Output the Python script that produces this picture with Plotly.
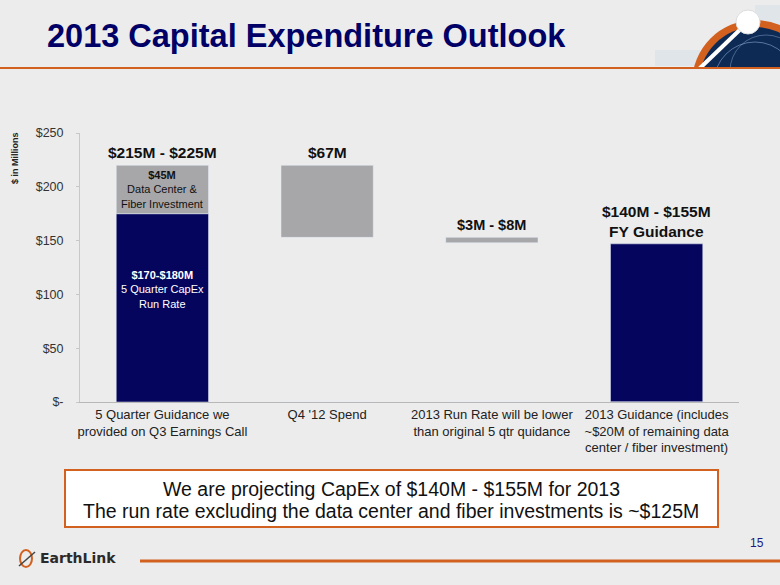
import plotly.graph_objects as go

# ---- data ----
categories = [
    "5 Quarter Guidance we<br>provided on Q3 Earnings Call",
    "Q4 '12 Spend",
    "2013 Run Rate will be lower<br>than original 5 qtr quidance",
    "2013 Guidance (includes<br>~$20M of remaining data<br>center / fiber investment)",
]
navy_values = [175, 0, 0, 147]
gray_values = [45, 67, 5, 0]
gray_base = [175, 153, 148, 0]
tick_vals = [0, 50, 100, 150, 200, 250]
tick_text = ["$-", "$50", "$100", "$150", "$200", "$250"]
top_labels = ["$215M - $225M", "$67M", "$3M - $8M", "$140M - $155M<br>FY Guidance"]

NAVY = "#05055e"
GRAY = "#a7a7aa"
ORANGE = "#d2601e"
BG = "#ececec"

W, H = 780, 585
L, R, T, B = 80, 739, 133, 402


def px(x):
    return (x - L) / (R - L)


def py(y):
    return (B - y) / (B - T)


fig = go.Figure()
fig.add_trace(go.Bar(x=categories, y=navy_values, base=[0] * 4, marker_color=NAVY,
                     width=0.56, hoverinfo="skip"))
fig.add_trace(go.Bar(x=categories, y=gray_values, base=gray_base, marker_color=GRAY,
                     width=0.56, hoverinfo="skip"))

ann = []
label_y = [gray_base[0] + gray_values[0], gray_base[1] + gray_values[1],
           gray_base[2] + gray_values[2], navy_values[3]]
for i, (lab, yv) in enumerate(zip(top_labels, label_y)):
    ann.append(dict(x=categories[i], y=yv, text="<b>%s</b>" % lab, showarrow=False,
                    xanchor="center", yanchor="bottom", yshift=2, xref="x", yref="y",
                    font=dict(family="Arial", size=15.5 if i != 2 else 14.5, color="#111")))
ann.append(dict(x=categories[0], y=gray_base[0] + gray_values[0] / 2,
                text="<b>$45M</b><br>Data Center &<br>Fiber Investment", showarrow=False,
                xanchor="center", yanchor="middle",
                xref="x", yref="y", font=dict(family="Arial", size=11, color="#111")))
ann.append(dict(x=categories[0], y=navy_values[0] * 0.6,
                text="<b>$170-$180M</b><br>5 Quarter CapEx<br>Run Rate", showarrow=False,
                xanchor="center", yanchor="middle",
                xref="x", yref="y", font=dict(family="Arial", size=11, color="white")))


def pann(x, y, text, size, color, xanchor="center", family="Arial", **kw):
    ann.append(dict(x=px(x), y=py(y), xref="paper", yref="paper", text=text, showarrow=False,
                    xanchor=xanchor, yanchor="middle",
                    font=dict(family=family, size=size, color=color), **kw))


pann(15, 158, "<b>$ in Millions</b>", 9, "#222", textangle=-90)
pann(45, 36, "<b>2013 Capital Expenditure Outlook</b>", 32.5, "#000066", xanchor="left")
pann(391, 489, "We are projecting CapEx of $140M - $155M for 2013", 19.5, "#111")
pann(391, 511, "The run rate excluding the data center and fiber investments is ~$125M", 19.5, "#111")
pann(757, 543, "15", 12, "#1a1a80")
pann(38, 558, "<b>EarthLink</b>", 14, "#2a2a2a", xanchor="left", family="DejaVu Sans")


def circ(x0, y0, x1, y1, **kw):
    return dict(type="circle", xref="paper", yref="paper", x0=px(x0), x1=px(x1),
                y0=py(y1), y1=py(y0), layer="above", **kw)


shapes = [
    # faint light-blue dot pattern near logo
    dict(type="rect", xref="paper", yref="paper", x0=px(655), x1=px(700), y0=py(66), y1=py(50),
         fillcolor="rgba(170,200,230,0.18)", line=dict(width=0), layer="below"),
    dict(type="rect", xref="paper", yref="paper", x0=px(755), x1=px(780), y0=py(30), y1=py(5),
         fillcolor="rgba(170,200,230,0.18)", line=dict(width=0), layer="below"),
    # logo top right: orange ring + navy globe
    circ(692, 20, 818, 146, fillcolor=ORANGE, line=dict(width=0)),
    circ(699, 27, 811, 139, fillcolor="#0d2a55", line=dict(width=0)),
    circ(714, 42, 796, 124, line=dict(color="rgba(160,190,230,0.5)", width=1)),
    circ(730, 35, 802, 107, line=dict(color="rgba(160,190,230,0.4)", width=1)),
    dict(type="line", xref="paper", yref="paper", x0=px(698), x1=px(748), y0=py(70), y1=py(22),
         line=dict(color="white", width=4), layer="above"),
    circ(736, 10, 760, 34, fillcolor="white", line=dict(color="#ddd", width=1)),
    # mask below header line
    dict(type="rect", xref="paper", yref="paper", x0=px(680), x1=px(800), y0=py(69), y1=py(160),
         fillcolor=BG, line=dict(width=0), layer="above"),
    dict(type="line", xref="paper", yref="paper", x0=px(0), x1=px(780), y0=py(68), y1=py(68),
         line=dict(color=ORANGE, width=2), layer="above"),
    # callout box
    dict(type="rect", xref="paper", yref="paper", x0=px(65), x1=px(718), y0=py(470), y1=py(527),
         fillcolor="white", line=dict(color=ORANGE, width=2), layer="below"),
    # bottom orange line
    dict(type="line", xref="paper", yref="paper", x0=px(140), x1=px(780), y0=py(561), y1=py(561),
         line=dict(color=ORANGE, width=3)),
    # EarthLink icon
    circ(20, 550, 32, 567, line=dict(color=ORANGE, width=2)),
    dict(type="line", xref="paper", yref="paper", x0=px(19), x1=px(35), y0=py(566), y1=py(552),
         line=dict(color="#444", width=1.5)),
]

fig.update_layout(
    width=W, height=H,
    margin=dict(l=L, r=W - R, t=T, b=H - B, autoexpand=False),
    paper_bgcolor=BG, plot_bgcolor="rgba(0,0,0,0)",
    barmode="overlay", showlegend=False,
    annotations=ann, shapes=shapes,
    font=dict(family="Arial", color="#222"),
)
fig.update_yaxes(range=[0, 250], tickvals=tick_vals, ticktext=tick_text, showgrid=False,
                 showline=True, linecolor="#c8c8c8", linewidth=1, ticks="outside",
                 ticklen=3, tickcolor="#c8c8c8", ticklabelstandoff=10,
                 tickfont=dict(family="Arial", size=12.5, color="#333"),
                 zeroline=False, fixedrange=True)
fig.update_xaxes(showline=True, linecolor="#b8b8b8", linewidth=1, showgrid=False,
                 tickfont=dict(family="Arial", size=13, color="#222"), ticks="", fixedrange=True)

fig.write_html("out.html", config={"displayModeBar": False},
               post_script="document.body.style.margin='0';")
